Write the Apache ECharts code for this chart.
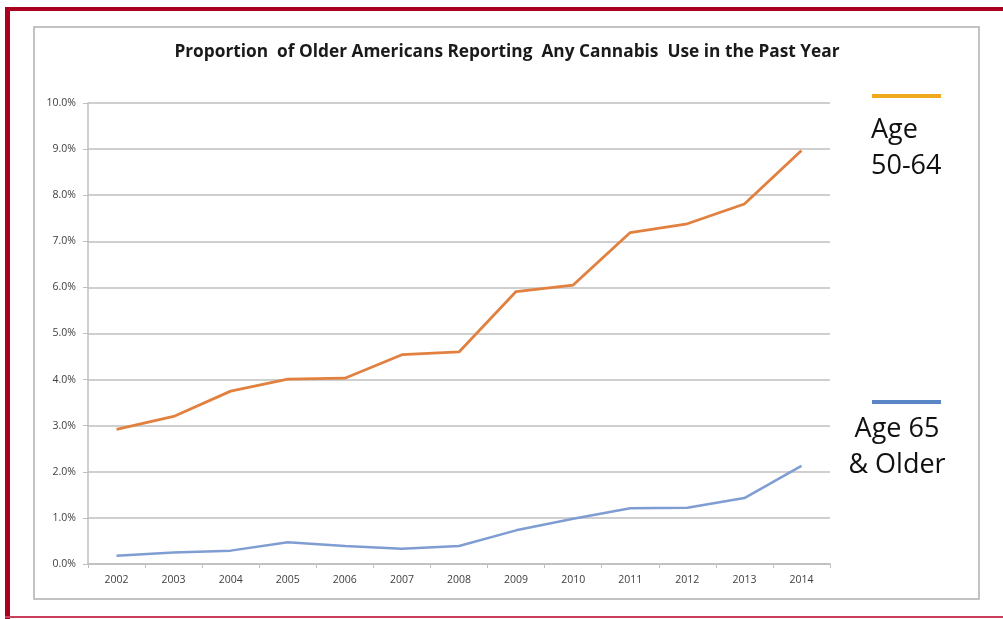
<!DOCTYPE html>
<html>
<head>
<meta charset="utf-8">
<script src="https://cdn.jsdelivr.net/npm/echarts@6/dist/echarts.min.js"></script>
<style>
  html, body { margin: 0; padding: 0; background: #ffffff; }
  #chart { width: 1003px; height: 619px; }
</style>
</head>
<body>
<div id="chart"></div>
<script>
// Survey years on the category axis
const years = ['2002', '2003', '2004', '2005', '2006', '2007', '2008',
               '2009', '2010', '2011', '2012', '2013', '2014'];

// Percent reporting any cannabis use in the past year
const age50to64 = [2.92, 3.20, 3.75, 4.01, 4.03, 4.54, 4.60,
                   5.91, 6.05, 7.19, 7.38, 7.81, 8.97];
const age65plus = [0.18, 0.25, 0.29, 0.47, 0.39, 0.33, 0.39,
                   0.73, 0.98, 1.21, 1.22, 1.43, 2.13];

// Legend captions shown at the right of the plot
const legendTop = ['Age', '50-64'];
const legendBottom = ['Age 65', '& Older'];

const chart = echarts.init(document.getElementById('chart'), null, { renderer: 'canvas' });

const axisGray = '#bfbfbf';
const labelGray = '#404040';
const font = '"Open Sans", "Liberation Sans", sans-serif';

chart.setOption({
  animation: false,
  backgroundColor: '#ffffff',
  title: {
    text: 'Proportion  of Older Americans Reporting  Any Cannabis  Use in the Past Year',
    left: 502,
    textAlign: 'center',
    top: 39,
    textStyle: { fontFamily: font, fontSize: 17.3, fontWeight: 'bold', color: '#1a1a1a' }
  },
  grid: { left: 88, right: 173, top: 103, bottom: 55, containLabel: false },
  xAxis: {
    type: 'category',
    data: years,
    boundaryGap: true,
    axisLine: { lineStyle: { color: axisGray, width: 1.5 } },
    axisTick: { show: true, length: 4, lineStyle: { color: axisGray } },
    axisLabel: { color: labelGray, fontFamily: font, fontSize: 10.5, margin: 11 }
  },
  yAxis: {
    type: 'value',
    min: 0,
    max: 10,
    interval: 1,
    axisLine: { show: true, lineStyle: { color: axisGray, width: 1.5 } },
    axisTick: { show: true, length: 5, lineStyle: { color: axisGray } },
    axisLabel: {
      color: labelGray, fontFamily: font, fontSize: 10.5, margin: 12,
      formatter: v => v.toFixed(1) + '%'
    },
    splitLine: { show: true, lineStyle: { color: axisGray, width: 1.5 } }
  },
  series: [
    {
      name: legendTop.join(' '),
      type: 'line',
      data: age50to64,
      showSymbol: false,
      lineStyle: { color: '#E2803F', width: 2.8 },
      itemStyle: { color: '#E2803F' }
    },
    {
      name: legendBottom.join(' '),
      type: 'line',
      data: age65plus,
      showSymbol: false,
      lineStyle: { color: '#7F9DD2', width: 2.5 },
      itemStyle: { color: '#7F9DD2' }
    }
  ],
  graphic: [
    // outer red frame
    { type: 'rect', shape: { x: 5, y: 7, width: 1000, height: 4 }, style: { fill: '#A8001E' }, silent: true },
    { type: 'rect', shape: { x: 5, y: 7, width: 5, height: 612 }, style: { fill: '#A8001E' }, silent: true },
    { type: 'rect', shape: { x: 5, y: 616, width: 1000, height: 2 }, style: { fill: '#C8405C' }, silent: true },
    // chart box border
    { type: 'rect', shape: { x: 34, y: 27, width: 945, height: 572 },
      style: { fill: null, stroke: '#b0b0b0', lineWidth: 1.5 }, silent: true, z: -1 },
    // legend: age 50-64
    { type: 'rect', shape: { x: 872, y: 94, width: 69, height: 4 }, style: { fill: '#F0A81C' }, silent: true },
    { type: 'text', left: 871, top: 112,
      style: { text: legendTop.join('\n'), fontFamily: font, fontSize: 27, lineHeight: 36, fill: '#111111' } },
    // legend: age 65 and older
    { type: 'rect', shape: { x: 872, y: 400, width: 69, height: 4 }, style: { fill: '#5B86C5' }, silent: true },
    { type: 'text', x: 897, y: 411,
      style: { text: legendBottom.join('\n'), fontFamily: font, fontSize: 27, lineHeight: 36,
               fill: '#111111', align: 'center', verticalAlign: 'top' } }
  ]
});
</script>
</body>
</html>
